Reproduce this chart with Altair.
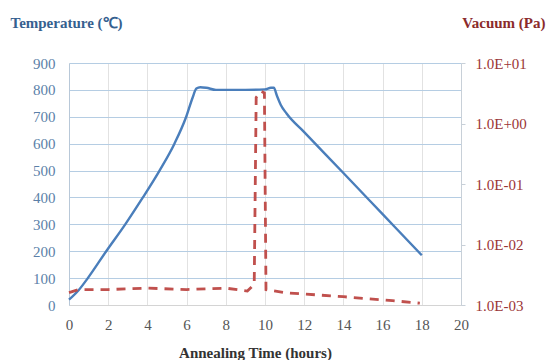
import altair as alt
import pandas as pd

# Temperature curve (hours, °C)
temp_time = [0, 0.5, 0.96, 1.9, 2.87, 3.77, 4.62, 5.38, 5.98, 6.3, 6.5, 6.7, 7.0, 7.5, 9.0, 10.0, 10.3, 10.45, 10.6, 10.8, 11.1, 12.0, 14.0, 16.0, 18.0]
temp_vals = [20, 56, 100, 200, 300, 400, 500, 600, 700, 770, 805, 810, 808, 800, 800, 802, 808, 808, 780, 745, 712, 643, 491, 338, 185]

# Vacuum curve (hours, Pa)
vac_time = [0, 0.5, 2, 4, 6, 8, 9.1, 9.45, 9.55, 9.8, 9.97, 10.05, 11.0, 14.0, 16.5, 17.9]
vac_vals = [1.6e-3, 1.8e-3, 1.8e-3, 1.9e-3, 1.8e-3, 1.9e-3, 1.7e-3, 2.2e-3, 2.7, 3.4, 3.2, 1.8e-3, 1.6e-3, 1.37e-3, 1.18e-3, 1.07e-3]

x_ticks = list(range(0, 21, 2))
temp_ticks = list(range(0, 901, 100))
vac_ticks = [0.001, 0.01, 0.1, 1, 10]

temp_df = pd.DataFrame({"t": temp_time, "T": temp_vals})
vac_df = pd.DataFrame({"t": vac_time, "P": vac_vals})

FONT = "'Liberation Serif', 'Times New Roman', serif"

x_axis = alt.Axis(
    values=x_ticks, title="Annealing Time (hours)", grid=True,
    gridColor="#e2e2e2", domainColor="#d4d4d4", ticks=False,
    labelOverlap=False, labelFlush=False,
    labelPadding=12, labelColor="#555555", labelFont=FONT, labelFontSize=15,
    titleFont=FONT, titleFontSize=15, titleFontWeight="bold", titleColor="#333333",
    titleX=186, titleY=47, titleBaseline="middle",
)
x_scale = alt.Scale(domain=[0, 20], nice=False)

temp_line = alt.Chart(temp_df).mark_line(
    color="#4a7ebb", strokeWidth=2.4, interpolate="monotone"
).encode(
    x=alt.X("t:Q", scale=x_scale, axis=x_axis),
    y=alt.Y(
        "T:Q",
        scale=alt.Scale(domain=[0, 900], nice=False),
        axis=alt.Axis(
            orient="left", values=temp_ticks, title="Temperature (\u2103)",
            grid=True, gridColor="#b5cde3", domainColor="#b8c8d8", ticks=False,
            labelOverlap=False,
            labelPadding=14, labelColor="#5b7fa8", labelFont=FONT, labelFontSize=15,
            titleFont=FONT, titleFontSize=15, titleFontWeight="bold", titleColor="#35608f",
            titleAngle=0, titleX=-59, titleY=-41, titleAlign="left", titleBaseline="middle",
        ),
    ),
)

vac_line = alt.Chart(vac_df).mark_line(
    color="#c0504d", strokeWidth=2.8, strokeDash=[9, 7]
).encode(
    x=alt.X("t:Q", scale=x_scale, axis=x_axis),
    y=alt.Y(
        "P:Q",
        scale=alt.Scale(type="log", domain=[0.001, 10], nice=False),
        axis=alt.Axis(
            orient="right", values=vac_ticks, title="Vacuum (Pa)", grid=False,
            domainColor="#c8d0d8", ticks=True, tickSize=4, tickColor="#c8d0d8",
            labelOverlap=False,
            labelPadding=10, labelColor="#9b3535", labelFont=FONT, labelFontSize=15,
            labelExpr="'1.0E' + (round(log(datum.value)/LN10) < 0 ? '-' : '+') + '0' + abs(round(log(datum.value)/LN10))",
            titleFont=FONT, titleFontSize=15, titleFontWeight="bold", titleColor="#8b2b2b",
            titleAngle=0, titleX=84, titleY=-41, titleAlign="right", titleBaseline="middle",
        ),
    ),
)

chart = alt.layer(temp_line, vac_line).resolve_scale(y="independent").properties(
    width=392, height=242,
    autosize=alt.AutoSizeParams(type="none"),
    padding={"left": 69, "top": 63, "right": 87, "bottom": 55},
    background="white",
).configure_view(stroke=None)

chart.save("out.html", embed_options={"renderer": "svg", "actions": False})
